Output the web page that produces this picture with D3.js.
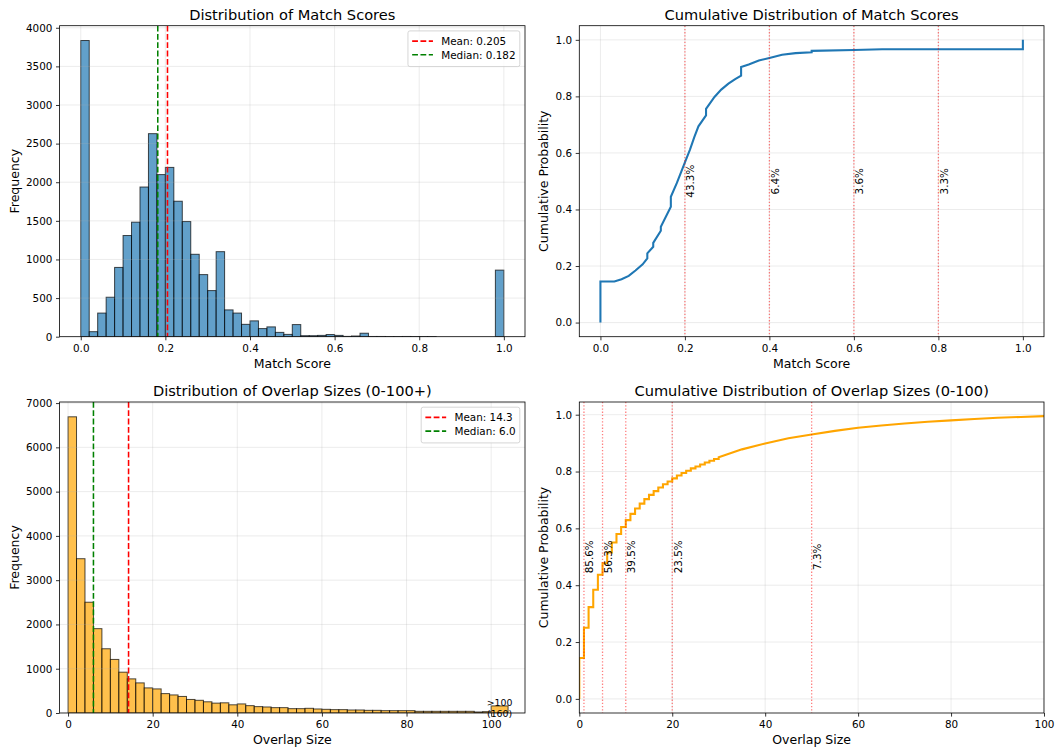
<!DOCTYPE html>
<html>
<head>
<meta charset="utf-8">
<script src="https://cdn.jsdelivr.net/npm/d3@7"></script>
<style>
  body { margin: 0; background: #fff; }
  svg { display: block; font-family: "DejaVu Sans", sans-serif; }
</style>
</head>
<body>
<script>
// ---- data ----
// match score histogram: 50 bins of 0.02 on [0, 1]
const scoreBinWidth = 0.02
const scoreCounts = [3835, 65, 306, 511, 897, 1310, 1483, 1938, 2629, 2099, 2192, 1754, 1491, 1067,
  804, 597, 1101, 347, 306, 160, 205, 105, 127, 56, 30, 157, 13, 13, 17, 28, 17, 4, 9, 45,
  3, 3, 2, 2, 3, 2, 2, 2, 0, 0, 0, 0, 0, 0, 0, 862]
const scoreMean = 0.205
const scoreMedian = 0.182

// cumulative distribution of match scores
const scoreCdfX = [0, 0, 0.033, 0.05, 0.067, 0.083, 0.1, 0.111, 0.111, 0.125, 0.125, 0.143, 0.143,
  0.1667, 0.1667, 0.181, 0.2, 0.212, 0.222, 0.232, 0.25, 0.25, 0.27, 0.286, 0.303, 0.319, 0.333,
  0.333, 0.351, 0.375, 0.4, 0.43, 0.462, 0.5, 0.5, 0.6, 0.667, 1.0, 1.0]
const scoreCdfY = [0, 0.145, 0.145, 0.153, 0.165, 0.184, 0.206, 0.227, 0.245, 0.268, 0.282, 0.325, 0.339,
  0.41, 0.445, 0.494, 0.567, 0.612, 0.655, 0.694, 0.733, 0.756, 0.798, 0.824, 0.845, 0.861, 0.873,
  0.904, 0.913, 0.927, 0.936, 0.947, 0.953, 0.956, 0.961, 0.964, 0.967, 0.967, 1.0]
const scoreThresholds = [0.2, 0.4, 0.6, 0.8]
const scoreAbove = ['43.3%', '6.4%', '3.6%', '3.3%']

// overlap size histogram: 50 bins of 2 on [0, 100] plus one bar for >100
const overlapBinWidth = 2
const overlapCounts = [6690, 3485, 2502, 1905, 1451, 1210, 922, 771, 680, 567, 544, 438, 408, 374,
  306, 287, 253, 223, 230, 185, 205, 166, 144, 136, 121, 121, 98, 98, 106, 91, 83, 76, 76, 68, 68,
  60, 60, 53, 53, 53, 53, 38, 38, 38, 38, 38, 38, 38, 23, 30]
const overflowRange = [100, 104]
const overflowCount = 160
const overlapMean = 14.3
const overlapMedian = 6.0

// cumulative distribution of overlap sizes (steps at each integer up to 30)
const overlapStepX = [0, 0, 1, 2, 3, 4, 5, 6, 7, 8, 9, 10, 11, 12, 13, 14, 15, 16, 17, 18, 19, 20,
  21, 22, 23, 24, 25, 26, 27, 28, 29, 30]
const overlapStepY = [0, 0.144, 0.250, 0.323, 0.384, 0.437, 0.477, 0.515, 0.550, 0.580, 0.605, 0.629,
  0.651, 0.670, 0.687, 0.703, 0.718, 0.731, 0.744, 0.755, 0.765, 0.776, 0.786, 0.795, 0.803, 0.811,
  0.818, 0.825, 0.832, 0.838, 0.844, 0.850]
const overlapTailX = [30, 35, 40, 45, 50, 55, 60, 65, 70, 75, 80, 85, 90, 95, 100]
const overlapTailY = [0.850, 0.878, 0.899, 0.917, 0.930, 0.943, 0.954, 0.962, 0.969, 0.975, 0.980,
  0.985, 0.989, 0.992, 0.995]
const overlapThresholds = [1, 5, 10, 20, 50]
const overlapAbove = ['85.6%', '56.3%', '39.5%', '23.5%', '7.3%']

// ---- drawing ----
const W = 1057, H = 751
const TICK = 10.4, LABEL = 12.5, TITLE = 14.6

const svg = d3.select('body').append('svg')
    .attr('width', W)
    .attr('height', H)

let clipCount = 0

function makePanel(box, x, y, opt) {
  const root = svg.append('g')
  const clipId = 'clip' + (clipCount++)
  root.append('clipPath').attr('id', clipId).append('rect')
      .attr('x', box.L).attr('y', box.T)
      .attr('width', box.R - box.L).attr('height', box.B - box.T)

  const marks = root.append('g').attr('clip-path', `url(#${clipId})`)
  const under = marks.append('g')
  const grid = marks.append('g')
      .attr('stroke', '#b0b0b0')
      .attr('stroke-opacity', 0.3)
      .attr('stroke-width', 0.8)
  const over = marks.append('g')

  grid.selectAll('.gx').data(opt.xticks).join('line')
      .attr('x1', d => x(d)).attr('x2', d => x(d))
      .attr('y1', box.T).attr('y2', box.B)
  grid.selectAll('.gy').data(opt.yticks).join('line')
      .attr('class', 'gy')
      .attr('x1', box.L).attr('x2', box.R)
      .attr('y1', d => y(d)).attr('y2', d => y(d))

  const ax = root.append('g')
      .attr('transform', `translate(0,${box.B})`)
      .call(d3.axisBottom(x).tickValues(opt.xticks).tickFormat(opt.xfmt).tickSize(3.6).tickPadding(3.6))
  const ay = root.append('g')
      .attr('transform', `translate(${box.L},0)`)
      .call(d3.axisLeft(y).tickValues(opt.yticks).tickFormat(opt.yfmt).tickSize(3.6).tickPadding(3.6))
  for (const a of [ax, ay]) {
    a.select('.domain').remove()
    a.attr('font-size', null).attr('font-family', null)
    a.selectAll('line').attr('stroke', '#000').attr('stroke-width', 0.8)
    a.selectAll('text').attr('fill', '#000').style('font-size', TICK + 'px')
  }
  ax.selectAll('text').attr('dy', '0.76em')

  root.append('rect')
      .attr('x', box.L).attr('y', box.T)
      .attr('width', box.R - box.L).attr('height', box.B - box.T)
      .attr('fill', 'none')
      .attr('stroke', '#000')
      .attr('stroke-width', 0.8)

  root.append('text')
      .attr('x', (box.L + box.R) / 2)
      .attr('y', box.T - 6.2)
      .attr('text-anchor', 'middle')
      .style('font-size', TITLE + 'px')
      .text(opt.title)

  root.append('text')
      .attr('x', (box.L + box.R) / 2)
      .attr('y', box.B + 7.2 + 0.76 * TICK + 0.24 * TICK + 4.2 + 0.76 * LABEL)
      .attr('text-anchor', 'middle')
      .style('font-size', LABEL + 'px')
      .text(opt.xlabel)

  let tw = 0
  ay.selectAll('text').each(function () { tw = Math.max(tw, this.getBBox().width) })
  const yl = box.L - 7.2 - tw - 4.2 - 0.24 * LABEL
  root.append('text')
      .attr('transform', `translate(${yl},${(box.T + box.B) / 2}) rotate(-90)`)
      .attr('text-anchor', 'middle')
      .style('font-size', LABEL + 'px')
      .text(opt.ylabel)

  return { root, under, over }
}

function bars(layer, starts, width, counts, x, y, color) {
  layer.selectAll(null).data(counts).join('rect')
      .attr('x', (d, i) => x(starts[i]))
      .attr('y', d => y(d))
      .attr('width', (d, i) => x(starts[i] + width) - x(starts[i]))
      .attr('height', d => y(0) - y(d))
      .attr('fill', color)
      .attr('fill-opacity', 0.7)
      .attr('stroke', '#000')
      .attr('stroke-opacity', 0.7)
      .attr('stroke-width', 1)
}

function vline(layer, xv, box, color, dash, width, opacity) {
  layer.append('line')
      .attr('x1', xv).attr('x2', xv)
      .attr('y1', box.T).attr('y2', box.B)
      .attr('stroke', color)
      .attr('stroke-width', width)
      .attr('stroke-opacity', opacity)
      .attr('stroke-dasharray', dash)
}

const DASH = '5.8,2.5'
const DOT = '1.3,1.9'

function legend(root, box, items) {
  const g = root.append('g')
  const texts = items.map(it => g.append('text')
      .style('font-size', TICK + 'px')
      .attr('dominant-baseline', 'central')
      .text(it.label))
  let tw = 0
  texts.forEach(t => { tw = Math.max(tw, t.node().getComputedTextLength()) })
  const w = 4.2 + 20.8 + 8.3 + tw + 4.2
  const h = 35.7
  const x0 = box.R - 5.2 - w, y0 = box.T + 5.2
  g.insert('rect', 'text')
      .attr('x', x0).attr('y', y0).attr('width', w).attr('height', h)
      .attr('rx', 2).attr('fill', '#fff').attr('fill-opacity', 0.8)
      .attr('stroke', '#cccccc').attr('stroke-width', 0.8)
  items.forEach((it, i) => {
    const cy = y0 + 10.2 + i * 13.7
    g.append('line')
        .attr('x1', x0 + 4.2).attr('x2', x0 + 25)
        .attr('y1', cy).attr('y2', cy)
        .attr('stroke', it.color).attr('stroke-width', 1.56)
        .attr('stroke-dasharray', DASH)
    texts[i].attr('x', x0 + 33.3).attr('y', cy)
  })
}

function percentLabels(root, xs, labels, x, y) {
  root.selectAll(null).data(xs).join('text')
      .attr('transform', d => `translate(${x(d) + 5.5},${y(0.5)}) rotate(-90)`)
      .attr('text-anchor', 'middle')
      .attr('dominant-baseline', 'central')
      .style('font-size', TICK + 'px')
      .text((d, i) => labels[i])
}

const boxes = {
  tl: { L: 59.6, R: 525, T: 25.7, B: 336.7 },
  tr: { L: 579.3, R: 1044, T: 25.7, B: 336.7 },
  bl: { L: 59.6, R: 525, T: 402, B: 713 },
  br: { L: 579.3, R: 1044, T: 402, B: 713 }
}

// --- top left: histogram of match scores
{
  const box = boxes.tl
  const x = d3.scaleLinear().domain([-0.05, 1.05]).range([box.L, box.R])
  const y = d3.scaleLinear().domain([0, d3.max(scoreCounts) * 1.05]).range([box.B, box.T])
  const p = makePanel(box, x, y, {
    xticks: [0, 0.2, 0.4, 0.6, 0.8, 1.0], xfmt: d3.format('.1f'),
    yticks: d3.range(0, 4001, 500), yfmt: d3.format('d'),
    title: 'Distribution of Match Scores', xlabel: 'Match Score', ylabel: 'Frequency'
  })
  const starts = scoreCounts.map((d, i) => i * scoreBinWidth)
  bars(p.under, starts, scoreBinWidth, scoreCounts, x, y, '#1f77b4')
  vline(p.over, x(scoreMean), box, '#ff0000', DASH, 1.56, 1)
  vline(p.over, x(scoreMedian), box, '#008000', DASH, 1.56, 1)
  legend(p.root, box, [
    { label: 'Mean: ' + scoreMean.toFixed(3), color: '#ff0000' },
    { label: 'Median: ' + scoreMedian.toFixed(3), color: '#008000' }
  ])
}

// --- top right: cdf of match scores
{
  const box = boxes.tr
  const x = d3.scaleLinear().domain([-0.05, 1.05]).range([box.L, box.R])
  const y = d3.scaleLinear().domain([-0.05, 1.05]).range([box.B, box.T])
  const p = makePanel(box, x, y, {
    xticks: [0, 0.2, 0.4, 0.6, 0.8, 1.0], xfmt: d3.format('.1f'),
    yticks: [0, 0.2, 0.4, 0.6, 0.8, 1.0], yfmt: d3.format('.1f'),
    title: 'Cumulative Distribution of Match Scores', xlabel: 'Match Score', ylabel: 'Cumulative Probability'
  })
  const line = d3.line().x(i => x(scoreCdfX[i])).y(i => y(scoreCdfY[i]))
  p.over.append('path')
      .attr('d', line(d3.range(scoreCdfX.length)))
      .attr('fill', 'none')
      .attr('stroke', '#1f77b4')
      .attr('stroke-width', 2.08)
  scoreThresholds.forEach(t => vline(p.over, x(t), box, '#ff0000', DOT, 1.3, 0.5))
  percentLabels(p.root, scoreThresholds, scoreAbove, x, y)
}

// --- bottom left: histogram of overlap sizes
{
  const box = boxes.bl
  const x = d3.scaleLinear().domain([-2, 108]).range([box.L, box.R])
  const y = d3.scaleLinear().domain([0, d3.max(overlapCounts) * 1.05]).range([box.B, box.T])
  const p = makePanel(box, x, y, {
    xticks: [0, 20, 40, 60, 80, 100], xfmt: d3.format('d'),
    yticks: d3.range(0, 7001, 1000), yfmt: d3.format('d'),
    title: 'Distribution of Overlap Sizes (0-100+)', xlabel: 'Overlap Size', ylabel: 'Frequency'
  })
  const starts = overlapCounts.map((d, i) => i * overlapBinWidth)
  bars(p.under, starts, overlapBinWidth, overlapCounts, x, y, '#ffa500')
  bars(p.under, [overflowRange[0]], overflowRange[1] - overflowRange[0], [overflowCount], x, y, '#ffa500')
  vline(p.over, x(overlapMean), box, '#ff0000', DASH, 1.56, 1)
  vline(p.over, x(overlapMedian), box, '#008000', DASH, 1.56, 1)
  const lab = p.root.append('text')
      .attr('text-anchor', 'middle')
      .style('font-size', '9.4px')
  const cx = x((overflowRange[0] + overflowRange[1]) / 2)
  lab.append('tspan').attr('x', cx).attr('y', y(overflowCount) + 0.5).text('>100')
  lab.append('tspan').attr('x', cx).attr('y', y(overflowCount) + 11).text('(' + overflowCount + ')')
  legend(p.root, box, [
    { label: 'Mean: ' + overlapMean.toFixed(1), color: '#ff0000' },
    { label: 'Median: ' + overlapMedian.toFixed(1), color: '#008000' }
  ])
}

// --- bottom right: cdf of overlap sizes
{
  const box = boxes.br
  const x = d3.scaleLinear().domain([0, 100]).range([box.L, box.R])
  const y = d3.scaleLinear().domain([-0.0497, 1.0447]).range([box.B, box.T])
  const p = makePanel(box, x, y, {
    xticks: [0, 20, 40, 60, 80, 100], xfmt: d3.format('d'),
    yticks: [0, 0.2, 0.4, 0.6, 0.8, 1.0], yfmt: d3.format('.1f'),
    title: 'Cumulative Distribution of Overlap Sizes (0-100)', xlabel: 'Overlap Size', ylabel: 'Cumulative Probability'
  })
  const step = d3.line().curve(d3.curveStepAfter).x(i => x(overlapStepX[i])).y(i => y(overlapStepY[i]))
  const tail = d3.line().x(i => x(overlapTailX[i])).y(i => y(overlapTailY[i]))
  p.over.append('path')
      .attr('d', step(d3.range(overlapStepX.length)) + tail(d3.range(overlapTailX.length)).replace(/^M/, 'L'))
      .attr('fill', 'none')
      .attr('stroke', '#ffa500')
      .attr('stroke-width', 2.08)
  overlapThresholds.forEach(t => vline(p.over, x(t), box, '#ff0000', DOT, 1.3, 0.5))
  percentLabels(p.root, overlapThresholds, overlapAbove, x, y)
}
</script>
</body>
</html>
